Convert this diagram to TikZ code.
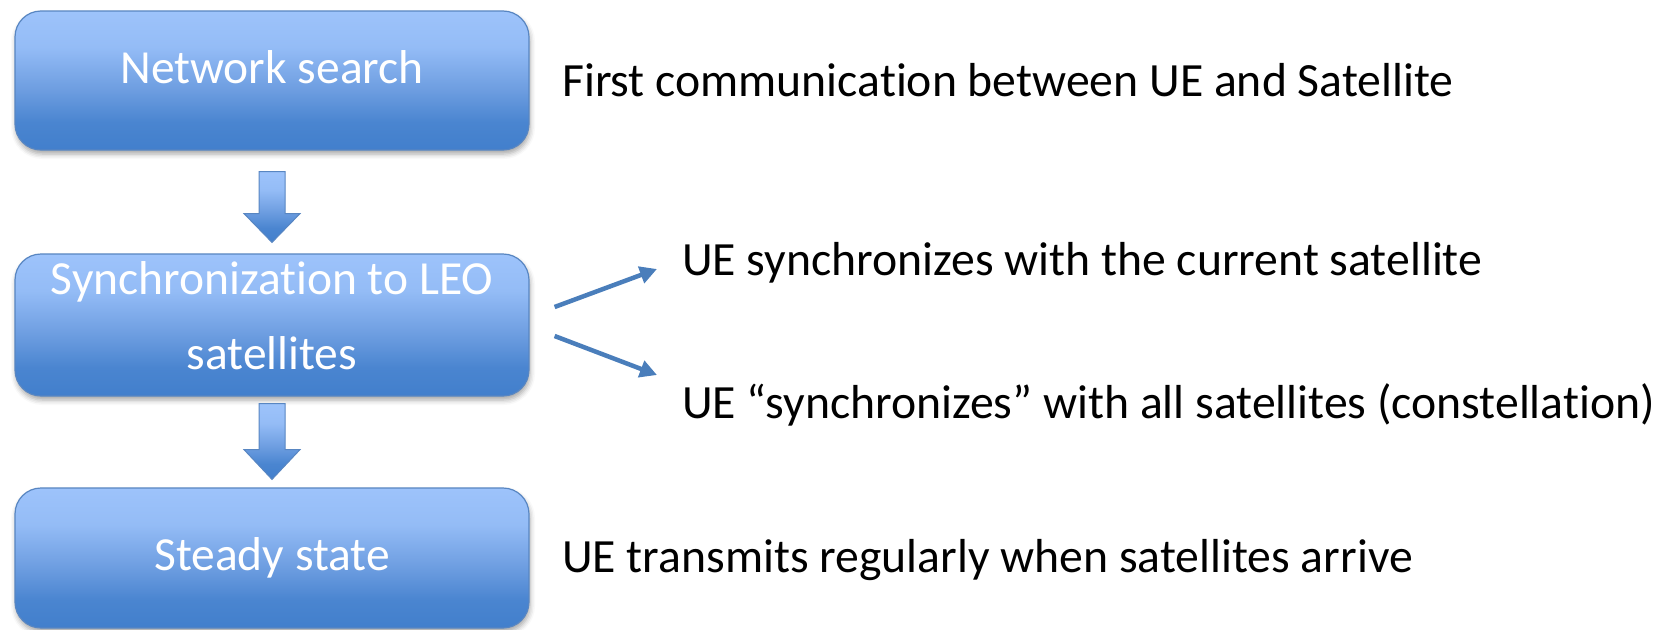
\documentclass[tikz,border=0pt]{standalone}
\usepackage{fontspec}
\setmainfont{Carlito}[Ligatures=NoCommon]
\usetikzlibrary{arrows.meta,calc,shadows.blur}
\definecolor{btop}{RGB}{157,195,251}
\definecolor{bhi}{RGB}{148,188,246}
\definecolor{bmid}{RGB}{110,158,225}
\definecolor{blo}{RGB}{74,133,208}
\definecolor{bbot}{RGB}{66,127,204}
\definecolor{bline}{RGB}{88,134,194}
\definecolor{arr}{RGB}{74,126,187}
\pgfdeclareverticalshading{boxshade}{100bp}{color(0bp)=(bbot); color(25bp)=(bbot); color(35bp)=(blo); color(47bp)=(bmid); color(62bp)=(bhi); color(75bp)=(btop); color(100bp)=(btop)}
\begin{document}
\begin{tikzpicture}[x=1pt,y=-1pt,
  box/.style={rounded corners=26pt, draw=bline, line width=1.2pt, shading=boxshade,
    minimum width=514pt, inner sep=0pt,
    blur shadow={shadow xshift=1pt, shadow yshift=-4pt, shadow blur radius=5pt, shadow opacity=35}},
  boxtext/.style={text=white, font=\fontsize{47.5}{56}\selectfont, anchor=base, inner sep=0pt},
  sidetext/.style={text=black, font=\fontsize{47.7}{56}\selectfont, anchor=base west, inner sep=0pt},
  blockarrow/.style={draw=bline, line width=1pt, shading=boxshade, line join=miter},
  thinarrow/.style={draw=arr, line width=4.5pt, -{Triangle[length=17pt,width=17pt]}}
]
\useasboundingbox (0,0) rectangle (1672,629);
% boxes
\node[box, minimum height=139pt] (b1) at (272,80.5) {};
\node[box, minimum height=142pt] (b2) at (272,325) {};
\node[box, minimum height=140pt] (b3) at (272,558) {};
% box texts
\node[boxtext] (t1) at (272,83) {Network search};
\node[boxtext] (t2a) at (272,294) {Synchronization to LEO};
\node[boxtext] (t2b) at (272,369) {satellites};
\node[boxtext] (t3) at (272,570) {Steady state};
% block arrows
\path[blockarrow] ($(b1.south)+(-13,21)$) -- ++(26,0) -- ++(0,42) -- ++(15,0)
   -- ($(b2.north)+(0,-11)$) coordinate (tip1) -- ($(b1.south)+(-28,63)$) -- ++(15,0) -- cycle;
\path[blockarrow] ($(b2.south)+(-13,7)$) -- ++(26,0) -- ++(0,46) -- ++(15,0)
   -- ($(b3.north)+(0,-8)$) coordinate (tip2) -- ($(b2.south)+(-28,53)$) -- ++(15,0) -- cycle;
% side texts
\node[sidetext] (s1) at (562,96) {First communication between UE and Satellite};
\node[sidetext] (s2) at (682,275) {UE synchronizes with the current satellite};
\node[sidetext] (s3) at (682,418) {UE “synchronizes” with all satellites (constellation)};
\node[sidetext] (s4) at (562,572) {UE transmits regularly when satellites arrive};
% thin arrows
\coordinate (a1s) at ($(b2.east)+(25,-18)$);
\coordinate (a2s) at ($(b2.east)+(25,11)$);
\draw[thinarrow] (a1s) -- ($(s2.base west)+(-25,-6)$);
\draw[thinarrow] (a2s) -- ($(s3.base west)+(-25,-43)$);
\end{tikzpicture}
\end{document}
